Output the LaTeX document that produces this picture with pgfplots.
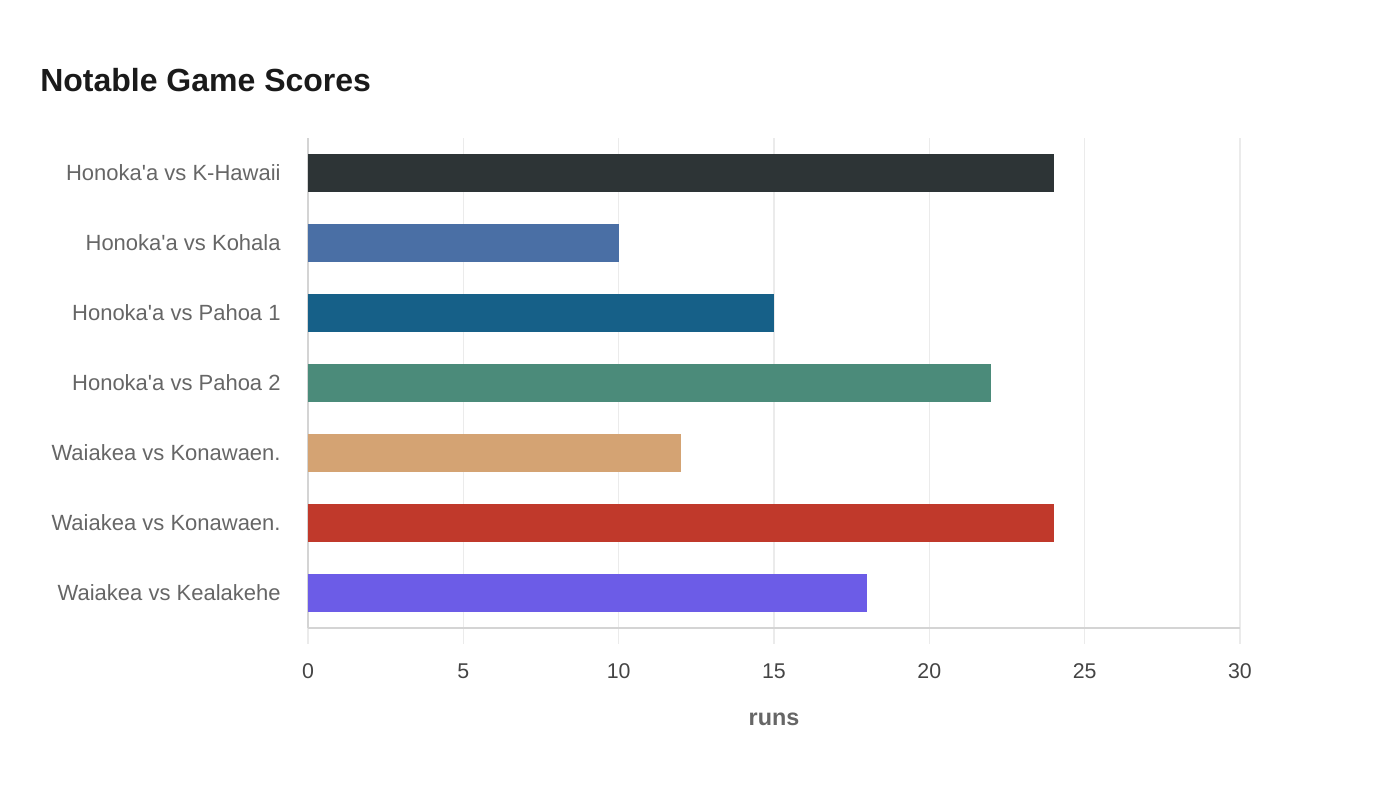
\documentclass[border=0pt]{standalone}
\usepackage{pgfplots}
\pgfplotsset{compat=1.18}
\usepackage{fontspec}
\setmainfont{Liberation Sans}
\definecolor{gridc}{HTML}{EBEBEB}
\definecolor{axisc}{HTML}{D4D4D4}
\definecolor{labc}{HTML}{666666}
\definecolor{tickc}{HTML}{444444}
\definecolor{titc}{HTML}{1A1A1A}
\definecolor{cA}{HTML}{2D3436}
\definecolor{cB}{HTML}{4A6FA5}
\definecolor{cC}{HTML}{166088}
\definecolor{cD}{HTML}{4B8B7A}
\definecolor{cE}{HTML}{D4A373}
\definecolor{cF}{HTML}{C0392B}
\definecolor{cG}{HTML}{6C5CE7}
\newcommand{\q}{\textquotesingle}
\begin{document}
\begin{tikzpicture}
\useasboundingbox (0,0) rectangle (1050pt,600pt);
\node[anchor=west, font=\fontsize{24}{28}\selectfont\bfseries, text=titc, inner sep=0pt] at (30pt,540pt) {Notable Game Scores};
\begin{axis}[
    at={(231pt,129pt)}, anchor=south west,
    scale only axis,
    width=699pt, height=367.5pt,
    xbar, bar width=28.5pt,
    xmin=0, xmax=30, ymin=-0.5, ymax=6.5,
    xtick={0,5,...,30},
    ytick={0,...,6},
    yticklabels={Waiakea vs Kealakehe, Waiakea vs Konawaen., Waiakea vs Konawaen., Honoka\q a vs Pahoa 2, Honoka\q a vs Pahoa 1, Honoka\q a vs Kohala, Honoka\q a vs K-Hawaii},
    axis x line*=bottom, axis y line*=left,
    axis line style={draw=axisc, line width=1pt, -},
    xmajorgrids, grid style={draw=gridc, line width=1pt},
    tick align=outside, major tick length=12pt,
    xtick style={draw=gridc, line width=1pt},
    ytick style={draw=none},
    /pgf/number format/assume math mode=true,
    xticklabel style={font=\fontsize{16}{19}\selectfont, text=tickc, yshift=-11pt},
    yticklabel style={font=\fontsize{16.5}{19}\selectfont, text=labc, xshift=-5pt},
    xlabel={runs},
    xlabel style={font=\fontsize{17.5}{20}\selectfont\bfseries, text=labc, yshift=-19pt},
]
\addplot[fill=cG, draw=none, bar shift=0pt] coordinates {(18,0)};
\addplot[fill=cF, draw=none, bar shift=0pt] coordinates {(24,1)};
\addplot[fill=cE, draw=none, bar shift=0pt] coordinates {(12,2)};
\addplot[fill=cD, draw=none, bar shift=0pt] coordinates {(22,3)};
\addplot[fill=cC, draw=none, bar shift=0pt] coordinates {(15,4)};
\addplot[fill=cB, draw=none, bar shift=0pt] coordinates {(10,5)};
\addplot[fill=cA, draw=none, bar shift=0pt] coordinates {(24,6)};
\end{axis}
\end{tikzpicture}
\end{document}
